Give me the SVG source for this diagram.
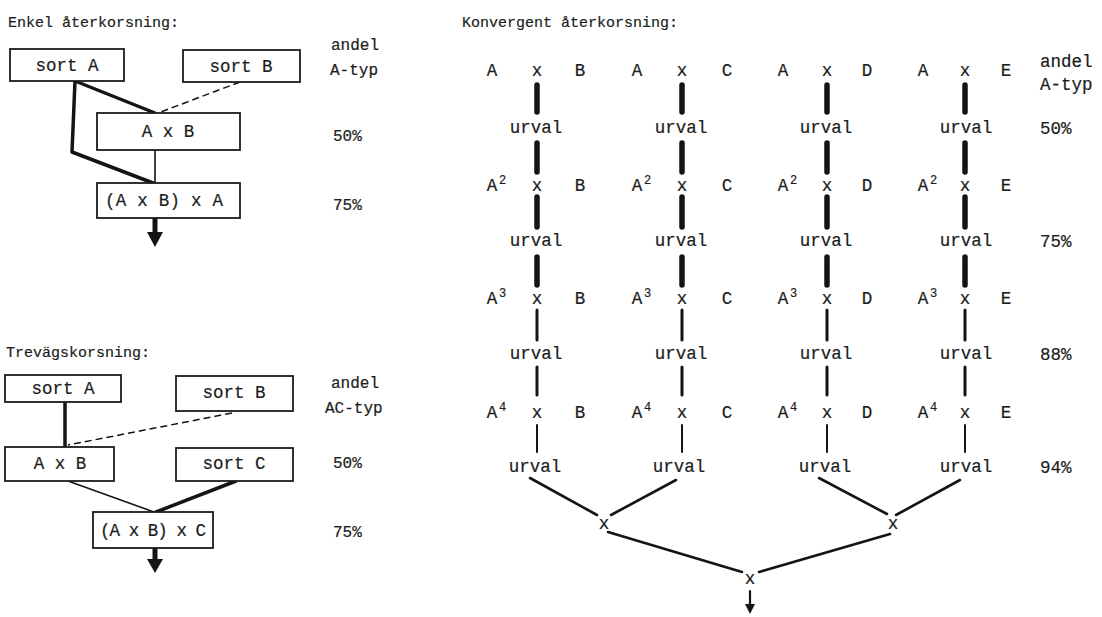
<svg xmlns="http://www.w3.org/2000/svg" width="1102" height="617" viewBox="0 0 1102 617">
<defs>
<style>
text{font-family:"Liberation Mono","DejaVu Sans Mono",monospace;fill:#1c1c1c;stroke:#1c1c1c;stroke-width:0.2}
.t{font-size:15px}
.b{font-size:17.5px}
.s{font-size:16px}
.m{text-anchor:middle}
.sup{font-size:12px}
.box{fill:#fff;stroke:#1c1c1c;stroke-width:1.8}
.c{stroke:#141414;fill:none;stroke-linecap:round;stroke-linejoin:round}
.thick{stroke-width:3.5}
.thin{stroke-width:1.6}
.dash{stroke-width:1.5;stroke-dasharray:7 4;stroke-linecap:butt}
.v5{stroke-width:5.5}
.v3{stroke-width:3}
.v2{stroke-width:2}
.mg{stroke-width:2.6}
.head{fill:#141414}
</style>
</defs>
<rect width="1102" height="617" fill="#fff"/>

<!-- Titles -->
<text class="t" x="8" y="27">Enkel återkorsning:</text>
<text class="t" x="6" y="357">Trevägskorsning:</text>
<text class="t" x="462" y="27">Konvergent återkorsning:</text>

<!-- connectors -->
<g id="connectors">
  <!-- Enkel -->
  <path class="c thick" d="M75,81 L155,113"/>
  <path class="c thick" d="M75,81 L72,152 L153,183"/>
  <path class="c thin" d="M155,150 L155,183"/>
  <path class="c dash" d="M240,82 L158,113"/>
  <path class="c" stroke-width="5" d="M155,219 L155,234"/>
  <path class="head" d="M147,232 L163,232 L155,247 Z"/>
  <!-- Trevag -->
  <path class="c thick" d="M65,402 L65,447"/>
  <path class="c dash" d="M232,413 L68,445"/>
  <path class="c thin" d="M68,481 L154,512"/>
  <path class="c thick" d="M236,481 L156,512"/>
  <path class="c" stroke-width="5" d="M155,549 L155,560"/>
  <path class="head" d="M147,559 L163,559 L155,573 Z"/>
  <!-- Konvergent verticals -->
  <g id="vert-lines">
    <path class="c v5" d="M537,85 V112 M537,143 V172 M537,197 V227 M537,257 V285"/>
    <path class="c v3" d="M537,310 V340 M537,367 V395"/>
    <path class="c v2" d="M537,425 V452"/>
    <path class="c v5" d="M682,85 V112 M682,143 V172 M682,197 V227 M682,257 V285"/>
    <path class="c v3" d="M682,310 V340 M682,367 V395"/>
    <path class="c v2" d="M682,425 V452"/>
    <path class="c v5" d="M827,85 V112 M827,143 V172 M827,197 V227 M827,257 V285"/>
    <path class="c v3" d="M827,310 V340 M827,367 V395"/>
    <path class="c v2" d="M827,425 V452"/>
    <path class="c v5" d="M965,85 V112 M965,143 V172 M965,197 V227 M965,257 V285"/>
    <path class="c v3" d="M965,310 V340 M965,367 V395"/>
    <path class="c v2" d="M965,425 V452"/>
  </g>
  <path class="c mg" d="M530,478 L597,515"/>
  <path class="c mg" d="M676,480 L611,515"/>
  <path class="c mg" d="M819,478 L887,514"/>
  <path class="c mg" d="M960,480 L896,515"/>
  <path class="c mg" d="M608,532 L742,572"/>
  <path class="c mg" d="M890,534 L759,572"/>
  <path class="c" stroke-width="2.2" d="M750,591 L750,606"/>
  <path class="head" d="M745,604 L755,604 L750,614 Z"/>
</g>

<!-- Enkel nodes -->
<g id="e-sortA"><rect class="box" x="10" y="49" width="114" height="32"/><text class="b m" x="67" y="71">sort A</text></g>
<g id="e-sortB"><rect class="box" x="183" y="50" width="117" height="32"/><text class="b m" x="241" y="72">sort B</text></g>
<g id="e-AxB"><rect class="box" x="97" y="113" width="143" height="37"/><text class="b m" x="168" y="137">A x B</text></g>
<g id="e-AxBxA"><rect class="box" x="97" y="183" width="143" height="35"/><text class="b m" x="164" y="206" textLength="118" lengthAdjust="spacing">(A x B) x A</text></g>
<g id="e-labels">
  <text class="s" x="331" y="50">andel</text>
  <text class="s" x="330" y="75">A-typ</text>
  <text class="s" x="333" y="141">50%</text>
  <text class="s" x="333" y="210">75%</text>
</g>

<!-- Trevag nodes -->
<g id="t-sortA"><rect class="box" x="5" y="375" width="116" height="27"/><text class="b m" x="63" y="394">sort A</text></g>
<g id="t-sortB"><rect class="box" x="176" y="376" width="117" height="35"/><text class="b m" x="234" y="398">sort B</text></g>
<g id="t-AxB"><rect class="box" x="5" y="447" width="109" height="34"/><text class="b m" x="60" y="469">A x B</text></g>
<g id="t-sortC"><rect class="box" x="176" y="448" width="117" height="33"/><text class="b m" x="234" y="469">sort C</text></g>
<g id="t-AxBxC"><rect class="box" x="93" y="512" width="120" height="36"/><text class="b m" x="153" y="536" textLength="106" lengthAdjust="spacing">(A x B) x C</text></g>
<g id="t-labels">
  <text class="s" x="331" y="388">andel</text>
  <text class="s" x="325" y="413">AC-typ</text>
  <text class="s" x="333" y="468">50%</text>
  <text class="s" x="333" y="537">75%</text>
</g>

<!-- Konvergent nodes: column 1 -->
<g id="k1-r1"><text class="b m" x="492" y="76">A</text><text class="b m" x="537" y="76">x</text><text class="b m" x="580" y="76">B</text></g>
<g id="k1-u1"><text class="b m" x="536" y="133">urval</text></g>
<g id="k1-r2"><text class="b m" x="492" y="191">A</text><text class="sup" x="499" y="184">2</text><text class="b m" x="537" y="191">x</text><text class="b m" x="580" y="191">B</text></g>
<g id="k1-u2"><text class="b m" x="536" y="246">urval</text></g>
<g id="k1-r3"><text class="b m" x="492" y="304">A</text><text class="sup" x="499" y="297">3</text><text class="b m" x="537" y="304">x</text><text class="b m" x="580" y="304">B</text></g>
<g id="k1-u3"><text class="b m" x="536" y="359">urval</text></g>
<g id="k1-r4"><text class="b m" x="492" y="418">A</text><text class="sup" x="499" y="411">4</text><text class="b m" x="537" y="418">x</text><text class="b m" x="580" y="418">B</text></g>
<g id="k1-u4"><text class="b m" x="535" y="472">urval</text></g>

<!-- column 2 -->
<g id="k2-r1"><text class="b m" x="637" y="76">A</text><text class="b m" x="682" y="76">x</text><text class="b m" x="727" y="76">C</text></g>
<g id="k2-u1"><text class="b m" x="681" y="133">urval</text></g>
<g id="k2-r2"><text class="b m" x="637" y="191">A</text><text class="sup" x="644" y="184">2</text><text class="b m" x="682" y="191">x</text><text class="b m" x="727" y="191">C</text></g>
<g id="k2-u2"><text class="b m" x="681" y="246">urval</text></g>
<g id="k2-r3"><text class="b m" x="637" y="304">A</text><text class="sup" x="644" y="297">3</text><text class="b m" x="682" y="304">x</text><text class="b m" x="727" y="304">C</text></g>
<g id="k2-u3"><text class="b m" x="681" y="359">urval</text></g>
<g id="k2-r4"><text class="b m" x="637" y="418">A</text><text class="sup" x="644" y="411">4</text><text class="b m" x="682" y="418">x</text><text class="b m" x="727" y="418">C</text></g>
<g id="k2-u4"><text class="b m" x="679" y="472">urval</text></g>

<!-- column 3 -->
<g id="k3-r1"><text class="b m" x="783" y="76">A</text><text class="b m" x="827" y="76">x</text><text class="b m" x="867" y="76">D</text></g>
<g id="k3-u1"><text class="b m" x="826" y="133">urval</text></g>
<g id="k3-r2"><text class="b m" x="783" y="191">A</text><text class="sup" x="790" y="184">2</text><text class="b m" x="827" y="191">x</text><text class="b m" x="867" y="191">D</text></g>
<g id="k3-u2"><text class="b m" x="826" y="246">urval</text></g>
<g id="k3-r3"><text class="b m" x="783" y="304">A</text><text class="sup" x="790" y="297">3</text><text class="b m" x="827" y="304">x</text><text class="b m" x="867" y="304">D</text></g>
<g id="k3-u3"><text class="b m" x="826" y="359">urval</text></g>
<g id="k3-r4"><text class="b m" x="783" y="418">A</text><text class="sup" x="790" y="411">4</text><text class="b m" x="827" y="418">x</text><text class="b m" x="867" y="418">D</text></g>
<g id="k3-u4"><text class="b m" x="825" y="472">urval</text></g>

<!-- column 4 -->
<g id="k4-r1"><text class="b m" x="923" y="76">A</text><text class="b m" x="965" y="76">x</text><text class="b m" x="1006" y="76">E</text></g>
<g id="k4-u1"><text class="b m" x="966" y="133">urval</text></g>
<g id="k4-r2"><text class="b m" x="923" y="191">A</text><text class="sup" x="930" y="184">2</text><text class="b m" x="965" y="191">x</text><text class="b m" x="1006" y="191">E</text></g>
<g id="k4-u2"><text class="b m" x="966" y="246">urval</text></g>
<g id="k4-r3"><text class="b m" x="923" y="304">A</text><text class="sup" x="930" y="297">3</text><text class="b m" x="965" y="304">x</text><text class="b m" x="1006" y="304">E</text></g>
<g id="k4-u3"><text class="b m" x="966" y="359">urval</text></g>
<g id="k4-r4"><text class="b m" x="923" y="418">A</text><text class="sup" x="930" y="411">4</text><text class="b m" x="965" y="418">x</text><text class="b m" x="1006" y="418">E</text></g>
<g id="k4-u4"><text class="b m" x="966" y="472">urval</text></g>

<!-- merges -->
<g id="merge-left"><text class="b m" x="604" y="529">x</text></g>
<g id="merge-right"><text class="b m" x="893" y="529">x</text></g>
<g id="merge-final"><text class="b m" x="750" y="584">x</text></g>

<!-- right labels -->
<g id="k-labels">
  <text class="b" x="1040" y="67">andel</text>
  <text class="b" x="1040" y="90">A-typ</text>
  <text class="b" x="1040" y="134">50%</text>
  <text class="b" x="1040" y="247">75%</text>
  <text class="b" x="1040" y="360">88%</text>
  <text class="b" x="1040" y="473">94%</text>
</g>
</svg>
